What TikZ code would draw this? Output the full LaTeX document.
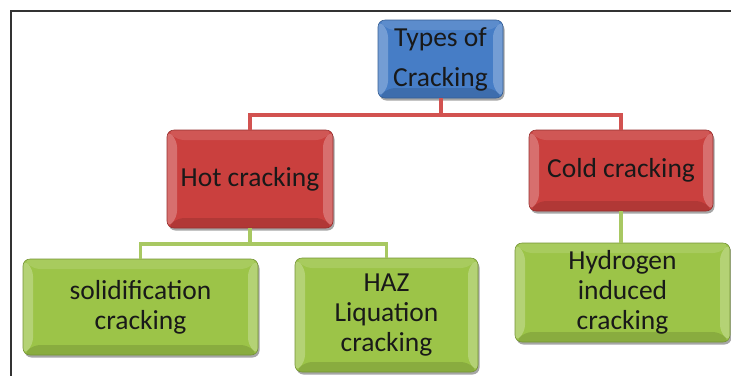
\documentclass[tikz,border=0pt]{standalone}
\usepackage{fontspec}
\setmainfont{Carlito}
\usetikzlibrary{shadows,calc}
\definecolor{bxblue}{RGB}{70,125,198}
\definecolor{bxred}{RGB}{202,64,62}
\definecolor{bxgreen}{RGB}{156,196,72}
\definecolor{lnred}{RGB}{210,82,80}
\definecolor{lngreen}{RGB}{168,200,98}
\definecolor{txt}{RGB}{25,25,25}
\tikzset{
  bevel/.style={rounded corners=7pt, draw=#1!75!black, line width=0.6pt, fill=#1,
    text=txt, align=center, inner sep=0pt,
    font=\fontsize{27.5}{30}\selectfont,
    drop shadow={shadow xshift=1.5pt, shadow yshift=-2.5pt, opacity=0.35, fill=black},
    path picture={
      \coordinate (pnw) at (path picture bounding box.north west);
      \coordinate (pne) at (path picture bounding box.north east);
      \coordinate (psw) at (path picture bounding box.south west);
      \coordinate (pse) at (path picture bounding box.south east);
      \fill[white,opacity=0.25] (pnw) -- ($(pnw)+(10pt,-10pt)$) -- ($(psw)+(10pt,10pt)$) -- (psw) -- cycle;
      \fill[white,opacity=0.25] (pne) -- ($(pne)+(-10pt,-10pt)$) -- ($(pse)+(-10pt,10pt)$) -- (pse) -- cycle;
      \fill[white,opacity=0.12] (pnw) -- (pne) -- ($(pne)+(-10pt,-10pt)$) -- ($(pnw)+(10pt,-10pt)$) -- cycle;
      \fill[black,opacity=0.12] (psw) -- (pse) -- ($(pse)+(-10pt,10pt)$) -- ($(psw)+(10pt,10pt)$) -- cycle;
    }},
  redline/.style={draw=lnred, line width=4pt},
  greenline/.style={draw=lngreen, line width=3.2pt},
  frameline/.style={draw=black!80, line width=1.6pt}
}
\begin{document}
\begin{tikzpicture}[x=1pt,y=-1pt]
\useasboundingbox (0,0) rectangle (731,376);
% frame
\coordinate (ftr) at (731,11);
\coordinate (ftl) at (11,11);
\coordinate (fbl) at (11,376);
\draw[frameline] (ftr) -- (ftl) -- (fbl);
% nodes
\node[bevel=bxblue, minimum width=125pt, minimum height=78pt] (top) at (440.5,59) {Types of\\[10pt]Cracking};
\node[bevel=bxred, minimum width=166pt, minimum height=98pt] (hot) at (250,179) {Hot cracking};
\node[bevel=bxred, minimum width=184pt, minimum height=81pt] (cold) at (621,170.5) {Cold cracking};
\node[bevel=bxgreen, minimum width=235pt, minimum height=96pt] (solid) at (140.5,307) {solidification\\cracking};
\node[bevel=bxgreen, minimum width=183pt, minimum height=114pt] (haz) at (386.5,315) {HAZ\\Liquation\\cracking};
\node[bevel=bxgreen, minimum width=215pt, minimum height=99pt] (hydro) at (622.5,292.5) {Hydrogen\\induced\\cracking};
% junctions
\coordinate (rj) at (top.south |- 0,115);
\coordinate (gj) at (hot.south |- 0,244);
% connectors
\draw[redline] (top.south) -- (rj);
\draw[redline] (rj) -| (hot.north);
\draw[redline] (rj) -| (cold.north);
\draw[greenline] (hot.south) -- (gj);
\draw[greenline] (gj) -| (solid.north);
\draw[greenline] (gj) -| (haz.north);
\draw[greenline] (cold.south) -- (cold.south |- hydro.north);
\end{tikzpicture}
\end{document}
